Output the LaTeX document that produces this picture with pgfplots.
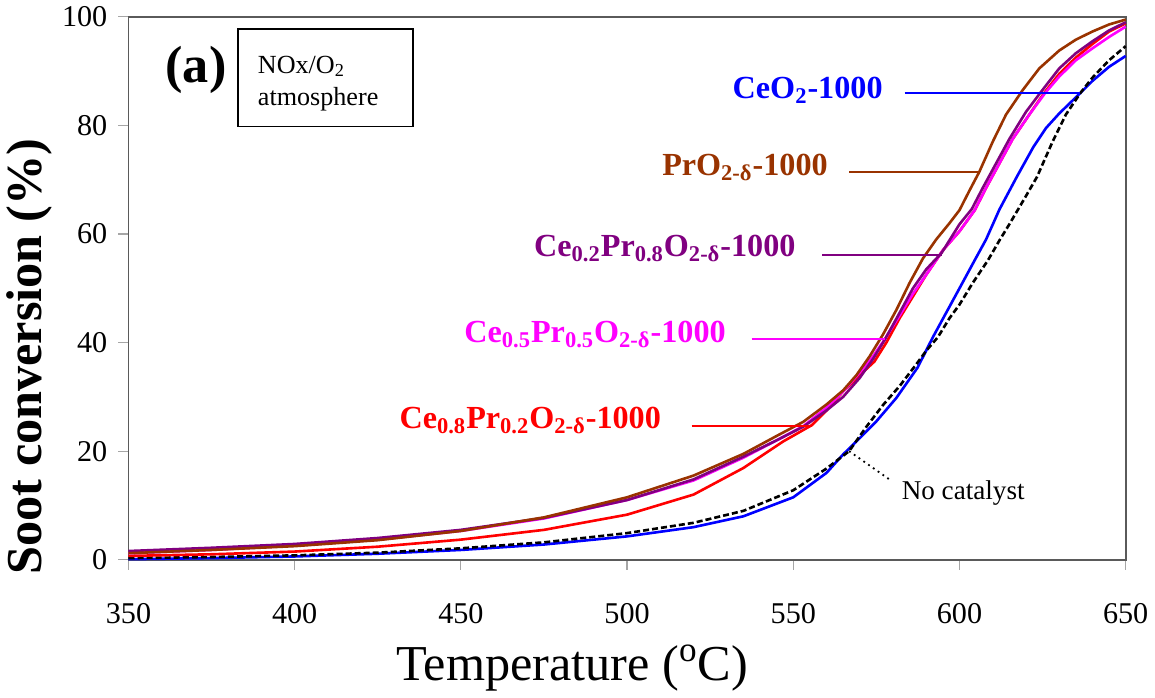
\documentclass[border=0pt]{standalone}
\usepackage{fontspec}
\setmainfont{Liberation Serif}
\usepackage{pgfplots}
\pgfplotsset{compat=1.18}
\definecolor{cbrown}{RGB}{153,51,0}
\definecolor{cpurple}{RGB}{128,0,128}
\definecolor{cmag}{RGB}{255,0,255}
\definecolor{cred}{RGB}{255,0,0}
\definecolor{cblue}{RGB}{0,0,255}
\definecolor{frame}{RGB}{90,90,90}

% soot conversion (%) vs temperature (C)
\pgfplotstableread{
T c
350 1.2
375 1.8
400 2.5
425 3.6
450 5.3
475 7.8
500 11.5
520 15.5
535 19.5
545 22.8
553 25.4
560 28.6
565 31.2
569 34.0
573 37.5
577 41.5
581 46.0
585 51.0
589 55.5
593 59.0
597 62.0
600 64.4
603 68.0
606 71.5
610 77.0
614 82.0
619 86.5
624 90.5
630 93.8
635 95.8
640 97.3
645 98.6
650 99.5
}\PrO

\pgfplotstableread{
T c
350 1.6
375 2.2
400 2.9
425 4.0
450 5.5
475 7.7
500 11.0
520 14.8
535 19.0
545 22.0
553 24.5
560 27.5
565 30.0
570 33.5
574 37.0
577.5 40.5
582 45.5
586 50.0
590 53.5
594.6 56.5
600 61.8
603.7 64.6
607 68.5
611 73.0
615 77.5
620 82.5
624.3 86.0
630 90.5
635 93.3
640 95.5
645 97.5
650 99.0
}\CeTwo

\pgfplotstableread{
T c
350 1.2
375 1.8
400 2.6
425 3.7
450 5.3
475 7.6
500 11.0
520 14.6
535 18.8
545 22.0
553 24.6
560 28.0
565 31.0
570 34.5
574 37.5
577.5 40.6
582 45.0
586 49.0
590 52.5
595 57.0
600 60.5
604.6 64.4
608 68.5
612 73.0
616 77.5
621 82.0
625.8 86.0
630 89.0
635 92.0
640 94.2
645 96.3
650 98.2
}\CeFive

\pgfplotstableread{
T c
350 0.7
375 1.0
400 1.5
425 2.4
450 3.7
475 5.5
500 8.3
520 12.0
535 16.9
547 21.8
555.6 24.8
560 27.5
565 31.0
570 34.0
574.4 36.5
578 40.0
582 44.5
586 48.5
590 52.5
595 57.0
600 60.5
604.6 64.4
608 68.5
612 73.0
616 77.5
621 82.0
625.5 86.0
630 89.5
635 92.5
640 95.0
645 97.3
650 98.8
}\CeEight

\pgfplotstableread{
T c
350 0.1
375 0.3
400 0.6
425 1.1
450 1.8
475 2.8
500 4.3
520 6.0
535 8.0
550 11.5
560 16.0
565 19.4
570 22.4
575 25.5
581 29.8
587.4 35.4
592 41.0
596 45.5
600 50.0
604.6 55.2
608 59.0
612 64.5
617.3 70.6
622.2 76.0
626 79.5
630 82.2
636.4 86.0
640 88.2
645 90.8
650 92.8
}\CeO

\pgfplotstableread{
T c
350 0.3
375 0.5
400 0.8
425 1.3
450 2.1
475 3.2
500 4.9
520 6.8
535 9.0
550 12.8
560 16.8
566.8 20.0
572 24.5
577 28.5
582 32.0
587 36.0
590 38.5
593.5 41.0
597 44.5
600 47.0
604 51.0
608.6 55.2
612 58.8
615 61.8
620 67.0
623.3 70.5
628 77.0
632 82.0
636.4 86.0
640 88.8
645 92.0
650 94.6
}\NoCat

\begin{document}
\begin{tikzpicture}
\begin{axis}[
  width=496pt, height=270pt, scale only axis,
  xmin=350, xmax=650, ymin=0, ymax=100,
  xtick={350,400,...,650}, ytick={0,20,...,100},
  tick align=outside, xtick pos=bottom, ytick pos=left,
  major tick length=5pt,
  tick style={gray!70, line width=0.6pt},
  axis line style={frame, line width=0.8pt},
  /pgf/number format/assume math mode=true,
  ticklabel style={font=\fontsize{15}{18}\selectfont},
  xticklabel style={yshift=-13pt},
  yticklabel style={xshift=-2pt},
  xlabel={Temperature (\textsuperscript{o}C)},
  ylabel={\textbf{Soot conversion (\%)}},
  xlabel style={font=\fontsize{25}{28}\selectfont, at={(ticklabel cs:0.445)}, yshift=-4pt},
  ylabel style={font=\fontsize{25}{28}\selectfont, at={(ticklabel cs:0.374)}, yshift=-2pt},
  every axis plot/.append style={line width=1.3pt},
  clip=false
]
\addplot[cblue] table[x=T, y=c] {\CeO};
\addplot[black, dash pattern=on 3pt off 1.5pt] table[x=T, y=c] {\NoCat};
\addplot[cred] table[x=T, y=c] {\CeEight};
\addplot[cmag] table[x=T, y=c] {\CeFive};
\addplot[cpurple] table[x=T, y=c] {\CeTwo};
\addplot[cbrown] table[x=T, y=c] {\PrO};

% leader lines and labels
\draw[cblue, line width=1pt] (axis cs:583.5,86) -- (axis cs:636.4,86);
\node[anchor=east, text=cblue, font=\fontsize{16}{18}\selectfont\bfseries] at (axis cs:579,86.5) {CeO\textsubscript{2}-1000};
\draw[cbrown, line width=1pt] (axis cs:566.8,71.5) -- (axis cs:606,71.5);
\node[anchor=east, text=cbrown, font=\fontsize{16}{18}\selectfont\bfseries] at (axis cs:562.5,72.3) {PrO\textsubscript{2-δ}-1000};
\draw[cpurple, line width=1pt] (axis cs:558.7,56.1) -- (axis cs:594.6,56.1);
\node[anchor=east, text=cpurple, font=\fontsize{16}{18}\selectfont\bfseries] at (axis cs:552.8,57.3) {Ce\textsubscript{0.2}Pr\textsubscript{0.8}O\textsubscript{2-δ}-1000};
\draw[cmag, line width=1pt] (axis cs:537.5,40.7) -- (axis cs:577.5,40.7);
\node[anchor=east, text=cmag, font=\fontsize{16}{18}\selectfont\bfseries] at (axis cs:531.8,41.5) {Ce\textsubscript{0.5}Pr\textsubscript{0.5}O\textsubscript{2-δ}-1000};
\draw[cred, line width=1pt] (axis cs:519.4,24.6) -- (axis cs:555.6,24.6);
\node[anchor=east, text=cred, font=\fontsize{16}{18}\selectfont\bfseries] at (axis cs:512.3,25.6) {Ce\textsubscript{0.8}Pr\textsubscript{0.2}O\textsubscript{2-δ}-1000};
\draw[black, dotted, line width=0.9pt] (axis cs:566.8,20) -- (axis cs:578.9,14.8);
\node[anchor=west, font=\fontsize{13.5}{16}\selectfont] at (axis cs:580.5,12.3) {No catalyst};

\node[font=\fontsize{26}{30}\selectfont\bfseries] at (axis cs:370.3,90.3) {(a)};
\draw[black, line width=0.7pt] (axis cs:383,97.8) rectangle (axis cs:435.6,79.8);
\node[anchor=west, font=\fontsize{13}{15}\selectfont] at (axis cs:386.8,90.9) {NOx/O\textsubscript{2}};
\node[anchor=west, font=\fontsize{13}{15}\selectfont] at (axis cs:386.8,84.8) {atmosphere};
\end{axis}
\end{tikzpicture}
\end{document}
